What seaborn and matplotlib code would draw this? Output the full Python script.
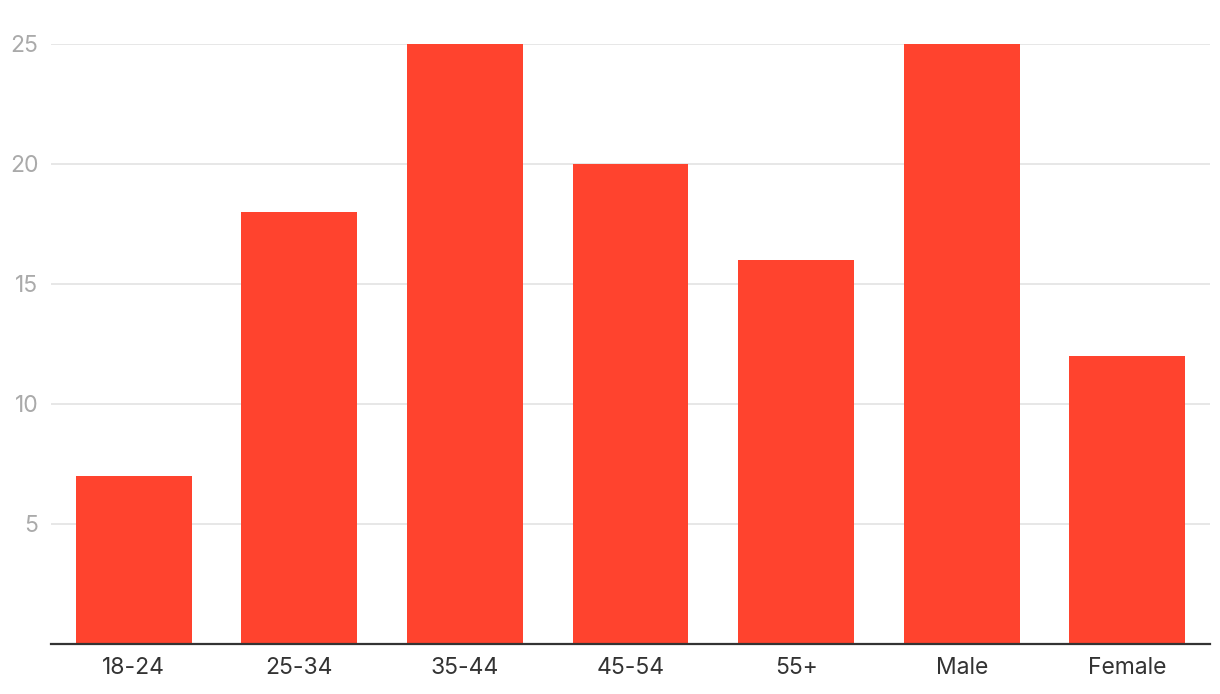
import matplotlib
matplotlib.use("Agg")
import matplotlib.pyplot as plt
import seaborn as sns
import pandas as pd

categories = ["18-24", "25-34", "35-44", "45-54", "55+", "Male", "Female"]
values = [7, 18, 25, 20, 16, 25, 12]
yticks = [5, 10, 15, 20, 25]

sns.set_theme(style="white")
plt.rcParams['font.family'] = ['Inter', 'DejaVu Sans']

df = pd.DataFrame({"cat": categories, "val": values})

W, H = 1220, 694
fig = plt.figure(figsize=(W / 100, H / 100), dpi=100)
ax = fig.add_axes([51 / W, 1 - 644 / H, (1210 - 51) / W, (644 - 44) / H])

sns.barplot(data=df, x="cat", y="val", color="#FF432E", saturation=1,
            width=0.7, ax=ax, zorder=3, linewidth=0, edgecolor="none")

ax.set_ylim(0, 25)
ax.set_xlim(-0.5, len(categories) - 0.5)
ax.set_yticks(yticks)
ax.set_yticklabels([str(t) for t in yticks])
ax.yaxis.grid(True, color="#E3E3E3", linewidth=1.2, zorder=0)
ax.set_axisbelow(True)
for s in ["top", "right", "left"]:
    ax.spines[s].set_visible(False)
ax.spines["bottom"].set_color("#333333")
ax.spines["bottom"].set_linewidth(1.6)
ax.spines["bottom"].set_zorder(4)
ax.set_xlabel("")
ax.set_ylabel("")
ax.tick_params(axis="x", length=0, pad=9, labelsize=16.5, labelcolor="#333333")
ax.tick_params(axis="y", length=0, pad=9, labelsize=16.5, labelcolor="#AAAAAA")

fig.savefig("out.png", dpi=100)
